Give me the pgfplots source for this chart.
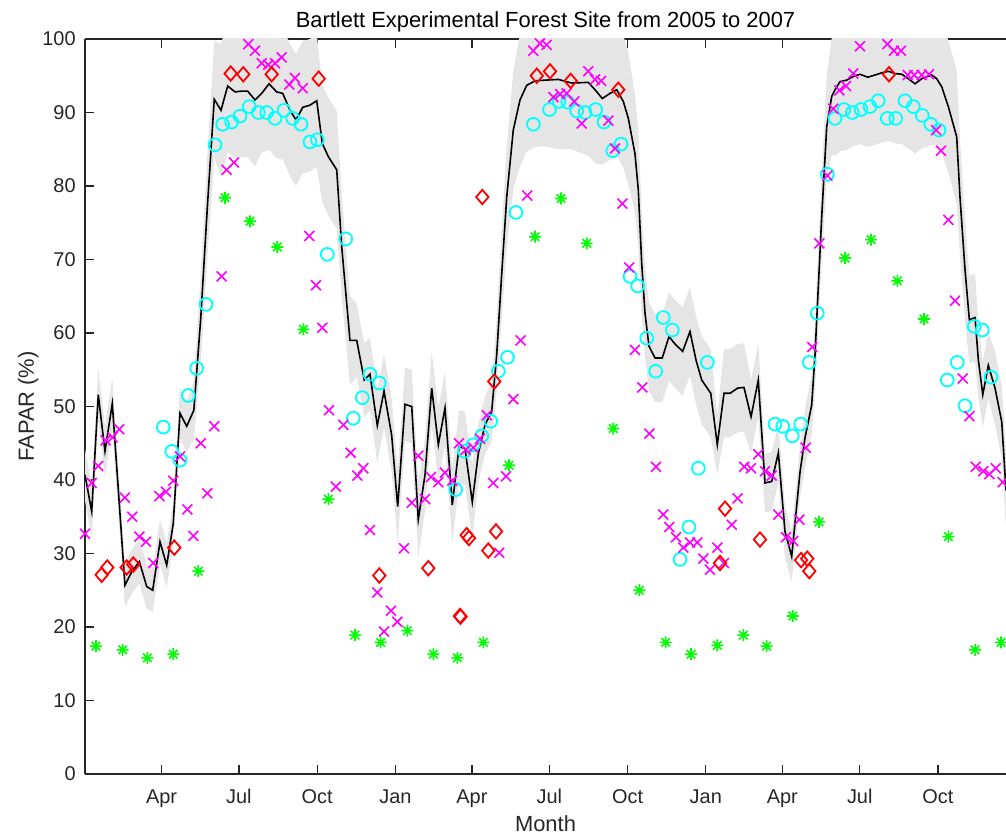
\documentclass[border=0pt]{standalone}
\usepackage{fontspec}
\setmainfont{Liberation Sans}
\usepackage{pgfplots}
\usepackage{pgfplotstable}
\pgfplotsset{compat=1.18}
\usepgfplotslibrary{fillbetween}
\definecolor{axgray}{rgb}{0.15,0.15,0.15}
\definecolor{bandgray}{rgb}{0.898,0.898,0.898}
\definecolor{mcyan}{rgb}{0,1,1}
\definecolor{mmag}{rgb}{1,0,1}
\definecolor{mred}{rgb}{1,0,0}
\definecolor{mgreen}{rgb}{0,1,0}
\pgfdeclareplotmark{mstar}{%
  \pgfpathmoveto{\pgfqpoint{-\pgfplotmarksize}{0pt}}\pgfpathlineto{\pgfqpoint{\pgfplotmarksize}{0pt}}%
  \pgfpathmoveto{\pgfqpoint{0pt}{-\pgfplotmarksize}}\pgfpathlineto{\pgfqpoint{0pt}{\pgfplotmarksize}}%
  \pgfpathmoveto{\pgfqpoint{-.7071\pgfplotmarksize}{-.7071\pgfplotmarksize}}\pgfpathlineto{\pgfqpoint{.7071\pgfplotmarksize}{.7071\pgfplotmarksize}}%
  \pgfpathmoveto{\pgfqpoint{-.7071\pgfplotmarksize}{.7071\pgfplotmarksize}}\pgfpathlineto{\pgfqpoint{.7071\pgfplotmarksize}{-.7071\pgfplotmarksize}}%
  \pgfusepathqstroke}

\pgfplotstableread{
x mean lo hi
0 40.7 37.2 44.2
7.9 35.7 32.2 39.2
15.6 51.6 48.1 55.1
23.5 43.9 40.4 47.4
32.1 50.4 46.9 53.9
47.0 25.7 22.7 28.7
54.9 27.5 24.5 30.5
63.9 28.9 25.9 31.9
72.6 25.5 22.5 28.5
79.6 25.0 22.0 28.0
88.2 31.6 28.6 34.6
96.1 28.4 25.4 31.4
103.8 34.1 31.1 37.1
111.7 49.1 45.6 52.6
119.6 47.3 43.8 50.8
128.0 49.5 45.5 53.5
136.1 62 56 68
143.8 77 70 84
152.0 91.8 83.8 99.8
159.9 90.3 81.3 99.3
167.8 93.6 84.6 102.6
176.4 92.8 83.8 101.8
183.4 92.9 83.9 101.9
191.3 92.9 83.9 101.9
199.9 91.7 82.7 100.7
207.8 92.6 84.6 100.6
216.4 93.9 84.9 102.9
225.4 92.8 83.8 101.8
232.5 92.6 83.6 101.6
241.1 90.3 81.3 99.3
248.1 89.0 80.0 98.0
256.0 90.7 81.7 99.7
264.6 91.0 82.0 100.0
272.5 91.6 82.6 100.6
279.0 85.8 77.8 93.8
286.1 84.0 76.0 92.0
296.0 82.2 74.2 90.2
301.9 71.7 64.7 78.7
311.6 59.0 53.0 65.0
319.5 59.0 54.0 64.0
328.4 53.6 48.6 58.6
335.1 54.4 49.4 59.4
343.7 47.4 42.4 52.4
351.6 52.1 47.1 57.1
360.6 46.1 41.1 51.1
367.7 36.4 31.4 41.4
376.3 50.3 45.3 55.3
384.2 50.0 45.0 55.0
391.9 34.6 29.6 39.6
399.8 40.7 35.7 45.7
407.7 52.5 47.5 57.5
415.5 44.8 39.8 49.8
423.3 49.8 44.8 54.8
431.9 36.6 31.6 41.6
439.8 44.5 39.5 49.5
446.8 44.3 39.3 49.3
455.4 37.0 32.0 42.0
462.5 43.6 39.6 47.6
470.4 47.5 43.5 51.5
478.2 49.3 45.3 53.3
484.1 57.0 52.0 62.0
490.0 68 62 74
495.9 78.5 71.5 85.5
503.6 87.6 79.6 95.6
511.5 91.7 82.7 100.7
519.4 93.7 84.7 102.7
529.2 94.3 85.3 103.3
540.9 94.4 85.4 103.4
556.6 94.5 85.0 104.0
572.3 94.0 85.0 103.0
591.8 94.1 84.1 104.1
599.7 93.1 83.1 103.1
608.3 91.9 82.9 100.9
617.4 92.6 83.6 101.6
625.2 93.1 84.1 102.1
633.0 91.5 82.5 100.5
638.9 89.2 80.2 98.2
646.7 84.4 76.4 92.4
650.6 79.5 71.5 87.5
654.6 69.5 62.5 76.5
658.5 62.7 56.7 68.7
663.2 58.2 52.2 64.2
670.3 56.6 50.6 62.6
678.8 56.6 50.6 62.6
686.7 59.5 53.5 65.5
694.6 58.4 52.4 64.4
702.8 57.5 51.5 63.5
711.4 60.2 54.2 66.2
718.5 56.3 50.3 62.3
725.2 53.6 47.6 59.6
735.8 51.8 45.8 57.8
743.5 44.8 40.8 48.8
751.4 51.8 45.8 57.8
758.5 51.8 45.8 57.8
767.5 52.5 46.5 58.5
774.9 52.6 46.6 58.6
783.2 48.6 43.6 53.6
791.7 53.6 48.6 58.6
799.6 39.6 35.6 43.6
807.5 39.8 35.8 43.8
815.3 43.7 39.7 47.7
823.1 33.0 29.5 36.5
831.0 29.6 26.1 33.1
840.8 41.1 37.6 44.6
846.6 45.7 41.7 49.7
854.5 50.2 46.2 54.2
858.4 57.0 52.0 62.0
866.3 75.8 69.8 81.8
872.2 88.1 81.1 95.1
878.1 92.2 84.2 100.2
882.0 93.1 84.1 102.1
887.8 94.2 84.7 103.7
895.7 94.4 84.9 103.9
903.4 94.9 85.4 104.4
911.3 95.2 85.7 104.7
920.4 94.8 85.3 104.3
929.0 95.1 85.6 104.6
936.9 95.4 85.9 104.9
944.6 95.6 86.1 105.1
952.5 95.3 85.8 104.8
960.4 95.2 85.7 104.7
968.1 94.6 85.1 104.1
976.0 93.9 84.4 103.4
983.9 94.6 85.1 104.1
995.6 95.1 85.6 104.6
1001.5 94.6 85.6 103.6
1007.4 93.5 84.5 102.5
1015.2 90.8 81.8 99.8
1025.0 86.7 77.7 95.7
1028.9 78.5 70.5 86.5
1034.8 68.6 61.6 75.6
1039.9 61.8 55.8 67.8
1046.6 62.1 56.1 68.1
1050.5 56.3 51.3 61.3
1055.7 51.6 47.1 56.1
1062.2 55.6 51.1 60.1
1070.1 52.5 47.5 57.5
1078.0 47.9 42.9 52.9
1083.0 38.6 33.6 43.6
}\band

\pgfplotstableread{
x y
92.1 47.2
102.0 43.9
111.7 42.7
121.5 51.5
131.3 55.2
142.3 63.9
152.9 85.6
161.9 88.4
172.5 88.7
182.3 89.5
193.2 90.8
203.8 90.0
213.7 90.0
223.4 89.2
234.0 90.3
244.2 89.2
254.0 88.4
264.6 86.0
273.2 86.3
284.9 70.7
306.6 72.8
315.5 48.4
326.1 51.2
335.1 54.4
346.1 53.2
435.9 38.7
446.0 43.9
456.6 44.8
466.5 46.0
477.1 48.0
486.0 54.8
496.8 56.7
506.8 76.4
527.2 88.4
546.2 90.4
557.4 91.5
567.6 91.4
578.2 90.2
588.0 90.0
600.5 90.4
610.3 88.7
620.5 84.8
630.3 85.7
640.9 67.7
649.9 66.4
660.5 59.3
671.1 54.8
680.0 62.1
690.6 60.4
699.7 29.2
710.2 33.6
721.2 41.6
731.8 56.0
811.4 47.6
820.5 47.3
831.7 46.0
841.6 47.6
851.7 56.0
861.1 62.7
872.9 81.6
881.9 89.2
892.5 90.4
902.3 90.0
912.5 90.4
923.1 90.8
932.8 91.6
943.4 89.2
953.3 89.2
964.2 91.6
974.0 90.8
984.6 89.6
994.5 88.4
1004.2 87.6
1014.0 53.6
1025.7 56.0
1034.8 50.1
1045.7 60.9
1055.1 60.4
1065.4 54.0
}\cyanpts

\pgfplotstableread{
x y
0 32.7
7.9 39.6
15.6 41.9
24.3 45.4
32.6 45.8
40.3 46.9
47.0 37.6
55.6 35.0
63.9 32.3
71.7 31.6
80.3 28.7
87.4 37.8
95.2 38.4
103.8 39.9
111.7 43.2
120.3 36.0
127.4 32.4
136.1 45.0
143.8 38.2
152.0 47.3
160.7 67.7
166.6 82.2
175.2 83.2
192.0 99.3
199.9 98.4
207.8 96.7
215.5 96.5
223.4 96.7
231.3 97.5
240.2 93.8
246.9 94.7
256.0 93.3
263.8 73.2
271.6 66.5
279.0 60.7
286.9 49.5
295.1 39.1
303.7 47.5
312.4 43.7
320.2 40.6
327.3 41.6
335.1 33.2
343.7 24.7
351.6 19.4
359.8 22.2
367.2 20.7
375.1 30.7
384.2 36.9
391.9 43.3
399.8 37.4
406.9 40.4
415.4 39.7
423.3 41.0
431.9 39.9
439.8 45.0
447.7 44.1
456.6 44.4
464.5 45.6
472.4 48.8
480.1 39.6
487.2 30.1
495.1 40.5
503.6 51.0
512.3 59.0
520.1 78.7
527.2 98.4
535.0 99.4
542.9 99.2
550.7 92.1
558.6 92.5
566.4 92.6
575.4 91.5
584.1 88.5
591.8 95.6
599.7 94.5
606.8 94.3
615.4 88.9
623.2 85.1
631.8 77.6
640.0 68.9
646.7 57.7
655.3 52.6
663.6 46.3
671.4 41.8
680.0 35.3
687.1 33.6
694.9 32.2
703.5 30.8
711.4 31.5
720.0 31.5
727.1 29.3
734.9 27.8
743.5 30.8
751.4 28.7
760.5 33.9
767.5 37.5
775.3 41.8
783.2 41.6
791.7 43.5
799.6 41.2
807.5 40.6
815.3 35.3
824.3 32.2
832.9 31.7
840.0 34.6
847.5 44.4
855.2 58.1
863.5 72.2
872.9 81.4
879.9 90.5
887.0 93.0
894.9 93.6
903.4 95.3
911.3 99.0
943.4 99.3
951.3 98.4
959.5 98.4
967.4 95.1
975.2 95.1
983.9 95.1
992.5 95.2
1000.7 87.6
1006.6 84.8
1015.2 75.4
1023.0 64.4
1032.1 53.8
1039.9 48.7
1047.4 41.8
1056.3 41.2
1063.4 40.8
1070.9 41.6
1079.1 39.7
}\magpts

\pgfplotstableread{
x y
19.6 27.1
26.2 28.1
49.0 28.1
56.8 28.5
105.0 30.8
171.3 95.3
186.1 95.2
219.5 95.2
274.8 94.6
346.1 27.0
403.7 28.0
441.0 21.5
441.6 21.4
448.8 32.5
451.5 32.1
467.2 78.5
474.2 30.4
481.3 53.4
483.3 33.0
531.2 95.0
546.8 95.6
571.1 94.3
627.1 93.1
746.7 28.7
752.6 36.1
793.7 31.9
842.0 29.1
849.3 29.3
851.7 27.6
945.4 95.2
}\redpts

\pgfplotstableread{
x y
12.9 17.4
44.3 16.9
73.3 15.8
103.8 16.3
133.2 27.6
164.6 78.4
194.0 75.2
226.1 71.7
256.7 60.5
286.1 37.4
317.5 18.9
347.7 17.9
379.0 19.5
409.6 16.3
437.8 15.8
468.4 17.9
498.6 42.0
529.2 73.1
559.7 78.3
590.0 72.2
621.2 47.0
651.8 25.0
682.8 17.9
712.6 16.3
743.5 17.5
774.1 18.9
801.6 17.4
832.2 21.5
863.1 34.3
893.7 70.2
924.3 72.7
955.2 67.1
986.6 61.9
1015.2 32.3
1046.6 16.9
1077.1 17.9
}\greenpts

\begin{document}
\begin{tikzpicture}
\begin{axis}[
  width=460.5bp, height=367.5bp, scale only axis,
  xmin=0, xmax=1083, ymin=0, ymax=100,
  axis x line=box, axis y line=left,
  axis line style={axgray, line width=0.6bp, -},
  tick align=inside,
  major tick length=4.6bp,
  tick style={axgray, line width=0.6bp},
  xtick={90,181,273,365,455,546,638,730,820,911,1003},
  xticklabels={Apr,Jul,Oct,Jan,Apr,Jul,Oct,Jan,Apr,Jul,Oct},
  ytick={0,10,...,100},
  /pgf/number format/assume math mode=true,
  ticklabel style={font=\fontsize{10}{12}\selectfont, text=axgray},
  xticklabel style={anchor=base, yshift=-14.7bp, inner sep=0pt},
  yticklabel style={anchor=east, xshift=-4.5bp, inner sep=0pt},
  every axis title/.style={at={(axis description cs:0.5,1.0163)}, anchor=base, inner sep=0pt, font=\fontsize{11}{13}\selectfont, text=black},
  every axis x label/.style={at={(axis description cs:0.5,-0.0776)}, anchor=base, inner sep=0pt, font=\fontsize{11}{13}\selectfont, text=axgray},
  every axis y label/.style={at={(axis description cs:-0.0554,0.5)}, rotate=90, anchor=base, inner sep=0pt, font=\fontsize{11}{13}\selectfont, text=axgray},
  title={Bartlett Experimental Forest Site from 2005 to 2007},
  xlabel={Month},
  ylabel={FAPAR (\%)},
]
\addplot[name path=hi, draw=none, forget plot] table[x=x, y=hi] {\band};
\addplot[name path=lo, draw=none, forget plot] table[x=x, y=lo] {\band};
\addplot[fill=bandgray, draw=none] fill between[of=hi and lo];
\addplot[black, line width=0.8bp, mark=none] table[x=x, y=mean] {\band};
\addplot[only marks, mark=o, mark size=3.2bp, mark options={mcyan, line width=0.9bp}] table {\cyanpts};
\addplot[only marks, mark=x, mark size=3.5bp, mark options={mmag, line width=0.8bp}] table {\magpts};
\addplot[only marks, mark=diamond, mark size=3.6bp, mark options={mred, line width=0.9bp, xscale=1.15}] table {\redpts};
\addplot[only marks, mark=mstar, mark size=3bp, mark options={mgreen, line width=0.8bp}] table {\greenpts};
\end{axis}
\pgfresetboundingbox
\useasboundingbox ([xshift=-42.5bp,yshift=-32bp]current axis.south west) rectangle ([yshift=19.5bp]current axis.north east);
\end{tikzpicture}
\end{document}
